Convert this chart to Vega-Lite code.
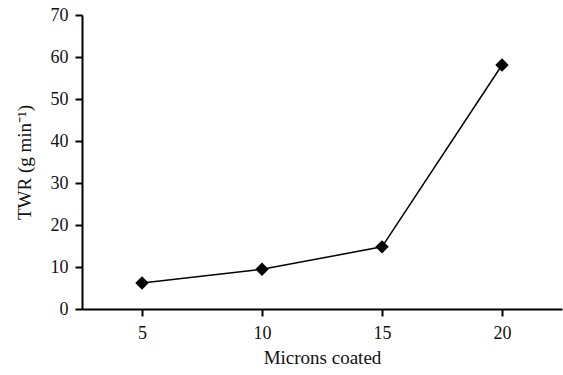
{
  "$schema": "https://vega.github.io/schema/vega-lite/v6.json",
  "autosize": "none",
  "width": 480,
  "height": 294,
  "padding": {"left": 82, "top": 15, "right": 1, "bottom": 66},
  "background": "white",
  "config": {
    "view": {"stroke": null},
    "font": "Liberation Serif",
    "axis": {
      "grid": false,
      "domainColor": "black",
      "domainWidth": 2,
      "tickColor": "black",
      "tickWidth": 2,
      "tickSize": 7,
      "labelFont": "Liberation Serif",
      "labelFontSize": 18,
      "labelColor": "#111",
      "titleFont": "Liberation Serif",
      "titleFontSize": 19,
      "titleFontWeight": "normal",
      "titleColor": "#111"
    }
  },
  "data": {
    "values": [
      {"microns": 5, "twr": 6.2},
      {"microns": 10, "twr": 9.45},
      {"microns": 15, "twr": 14.8},
      {"microns": 20, "twr": 58.1}
    ]
  },
  "encoding": {
    "x": {
      "field": "microns",
      "type": "quantitative",
      "scale": {"domain": [2.5, 22.5], "nice": false, "zero": false},
      "axis": {"values": [5, 10, 15, 20], "title": "Microns coated", "labelPadding": 8, "titlePadding": 6}
    },
    "y": {
      "field": "twr",
      "type": "quantitative",
      "scale": {"domain": [0, 70], "nice": false},
      "axis": {"values": [0, 10, 20, 30, 40, 50, 60, 70], "title": "TWR (g min⁻¹)", "labelPadding": 7, "titlePadding": 16}
    }
  },
  "layer": [
    {"mark": {"type": "line", "color": "black", "strokeWidth": 1.5}},
    {"mark": {"type": "point", "shape": "diamond", "filled": true, "color": "black", "size": 180, "opacity": 1}}
  ]
}
